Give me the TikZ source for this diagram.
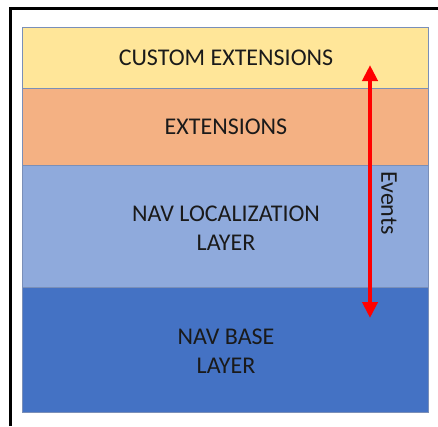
\documentclass[tikz,border=0pt]{standalone}
\usepackage{fontspec}
\setmainfont{Carlito}
\usetikzlibrary{arrows.meta}
\definecolor{cust}{HTML}{FFE699}
\definecolor{ext}{HTML}{F4B183}
\definecolor{loc}{HTML}{8FAADC}
\definecolor{base}{HTML}{4472C4}
\definecolor{edge}{HTML}{7A8FB8}
\definecolor{txt}{HTML}{1A1A1A}
\tikzset{
  layer/.style={draw=edge, line width=1pt, inner sep=0pt, minimum width=406pt, anchor=north west},
  lbl/.style={text=txt, font=\fontsize{24}{29}\selectfont, align=center, inner sep=0pt},
  evarrow/.style={draw=red, line width=4pt, {Triangle[length=16pt,width=15pt]}-{Triangle[length=16pt,width=15pt]}},
}
\begin{document}
\begin{tikzpicture}[x=1pt,y=-1pt]
\useasboundingbox (0,0) rectangle (438,426);
\fill[white] (0,0) rectangle (438,426);
\draw[black, line width=3pt] (10,426) -- (10,8) -- (438,8);
\node[layer, fill=cust, minimum height=61pt] (custom) at (22,27) {};
\node[layer, fill=ext, minimum height=77pt] (ext) at (22,88) {};
\node[layer, fill=loc, minimum height=122pt] (loc) at (22,165) {};
\node[layer, fill=base, minimum height=125pt] (base) at (22,287) {};
\node[lbl] (tcust) at (226,58) {CUSTOM EXTENSIONS};
\node[lbl] (text) at (226,127) {EXTENSIONS};
\node[lbl] (tloc) at (226,228) {NAV LOCALIZATION\\LAYER};
\node[lbl] (tbase) at (226,351) {NAV BASE\\LAYER};
\coordinate (atop) at (370,65);
\coordinate (abot) at (370,318);
\draw[evarrow] (atop) -- (abot);
\node[lbl, rotate=-90] (events) at (389,203) {Events};
\end{tikzpicture}
\end{document}
